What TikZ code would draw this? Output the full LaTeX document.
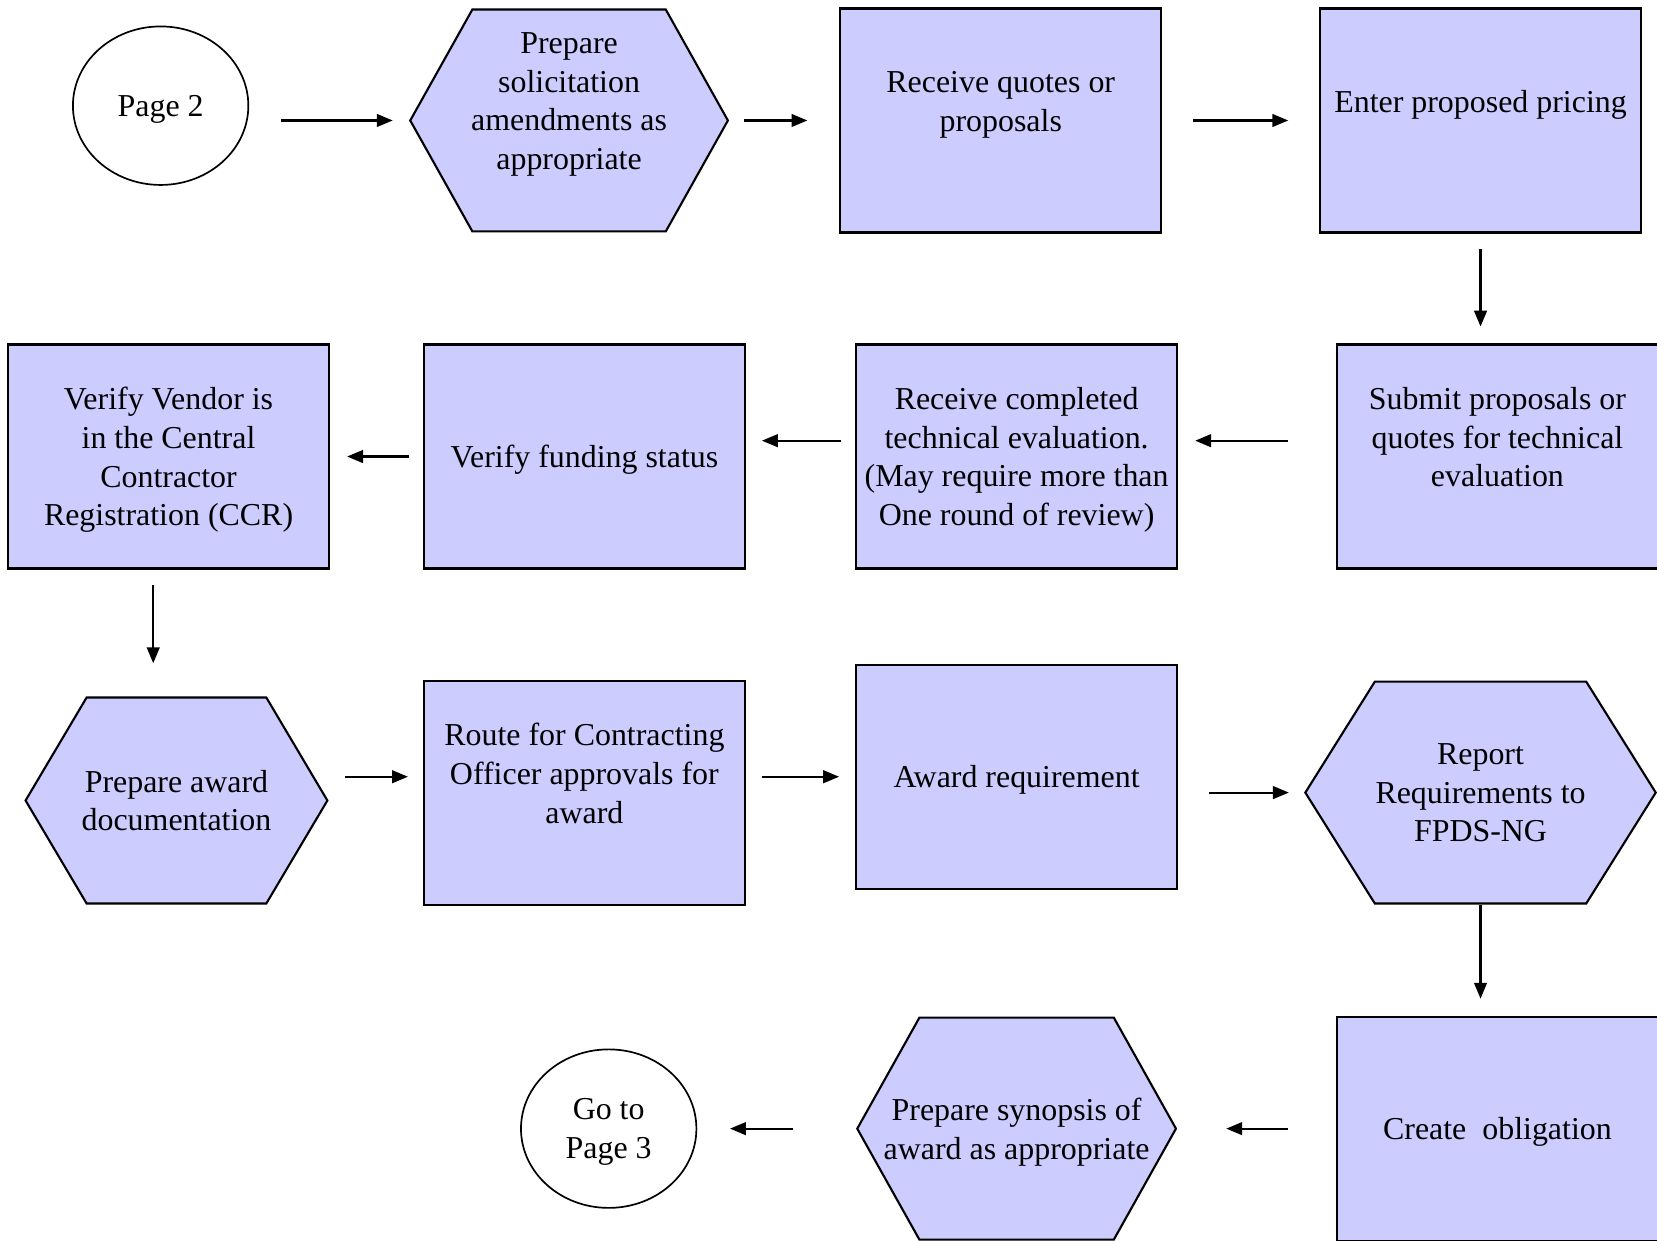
\documentclass[tikz,border=0pt]{standalone}
\usepackage{fontspec}
\setmainfont{Liberation Serif}
\usetikzlibrary{shapes.geometric,arrows.meta}
\definecolor{boxfill}{RGB}{204,204,255}

\tikzset{
  box/.style={rectangle, draw, line width=1pt, fill=boxfill, minimum width=152pt, minimum height=106pt, inner sep=1pt, text depth=0pt, align=center},
  hex inset/.store in=\hexinset, hex inset=30pt,
  hexbox/.style={rectangle, minimum width=152pt, minimum height=106pt, inner sep=1pt, text depth=0pt, align=center,
    path picture={
      \draw[line width=1pt, fill=boxfill]
        ([xshift=0.6pt]path picture bounding box.west)
        -- ([xshift=\hexinset,yshift=-0.5pt]path picture bounding box.north west)
        -- ([xshift=-\hexinset,yshift=-0.5pt]path picture bounding box.north east)
        -- ([xshift=-0.6pt]path picture bounding box.east)
        -- ([xshift=-\hexinset,yshift=0.5pt]path picture bounding box.south east)
        -- ([xshift=\hexinset,yshift=0.5pt]path picture bounding box.south west)
        -- cycle;
    }},
  endpoint/.style={ellipse, draw, line width=0.8pt, fill=white, minimum width=83pt, minimum height=75pt, inner sep=0pt, text depth=0pt, align=center},
  flow/.style={line width=1pt, -{Triangle[length=7.5pt,width=6pt]}},
}

\begin{document}
\begin{tikzpicture}[x=0.5pt, y=-0.5pt, font=\fontsize{15.1pt}{18.25pt}\selectfont]
\useasboundingbox (0,0) rectangle (1568,1174);

% first row
\node[endpoint] (page2) at (152,100) {Page 2};
\node[hexbox, minimum width=151.5pt] (amend) at (538.5,114) {Prepare\\ solicitation\\ amendments as\\ appropriate\\ ~};
\node[box] (quotes) at (947,114) {Receive quotes or\\ proposals\\ ~};
\node[box] (pricing) at (1401,114) {Enter proposed pricing\\ ~};

% second row
\node[box] (submit) at (1417,432) {Submit proposals or\\ quotes for technical\\ evaluation\\ ~};
\node[box] (techeval) at (962,432) {Receive completed\\ technical evaluation.\\ (May require more than\\ One round of review)};
\node[box] (funding) at (553,432) {Verify funding status};
\node[box] (vendor) at (159.5,432) {Verify Vendor is\\ in the Central\\ Contractor\\ Registration (CCR)};

% third row
\node[hexbox, minimum width=144pt, minimum height=98.5pt, hex inset=29.5pt] (awarddoc) at (167,757.5) {Prepare award\\ documentation};
\node[box] (route) at (553,750) {Route for Contracting\\ Officer approvals for\\ award\\ ~};
\node[box] (awardreq) at (962,735) {Award requirement};
\node[hexbox, minimum width=167pt, hex inset=33.5pt] (report) at (1401,750) {Report\\ Requirements to\\ FPDS-NG};

% last row
\node[box] (oblig) at (1417,1068) {Create~ obligation};
\node[hexbox] (synopsis) at (962,1068) {Prepare synopsis of\\ award as appropriate};
\node[endpoint] (page3) at (576,1068) {Go to\\ Page 3};

\draw[flow, shorten <=15pt, shorten >=7.5pt] (page2.east |- amend.west) -- (amend.west);
\draw[flow, shorten <=7pt, shorten >=15pt] (amend.east) -- (quotes.west);
\draw[flow, shorten <=14.5pt, shorten >=14.5pt] (quotes.east) -- (pricing.west);
\draw[flow, shorten <=7.5pt, shorten >=8pt] (pricing.south) -- (pricing.south |- submit.north);
\draw[flow, shorten <=22.5pt, shorten >=8pt] ([yshift=7.5pt]submit.west) -- ([yshift=7.5pt]techeval.east);
\draw[flow, shorten <=6.5pt, shorten >=7.5pt] ([yshift=7.5pt]techeval.west) -- ([yshift=7.5pt]funding.east);
\draw[flow, shorten <=6.5pt, shorten >=8pt] (funding.west) -- (vendor.east);
\draw[flow, shorten <=7.5pt, shorten >=15.5pt] ([xshift=-7.25pt]vendor.south) -- ([xshift=-7.25pt]vendor.south |- awarddoc.north);
\draw[flow, shorten <=7.5pt, shorten >=7pt] (awarddoc.east |- awardreq.west) -- (route.west |- awardreq.west);
\draw[flow, shorten <=7.5pt, shorten >=7.5pt] (route.east |- awardreq.west) -- (awardreq.west);
\draw[flow, shorten <=14.5pt, shorten >=7pt] (awardreq.east |- report.west) -- (report.west);
\draw[flow, shorten >=8pt] (report.south) -- (report.south |- oblig.north);
\draw[flow, shorten <=22.5pt, shorten >=23pt] (oblig.west) -- (synopsis.east);
\draw[flow, shorten <=29.5pt, shorten >=15.5pt] (synopsis.west) -- (page3.east);
\end{tikzpicture}
\end{document}
